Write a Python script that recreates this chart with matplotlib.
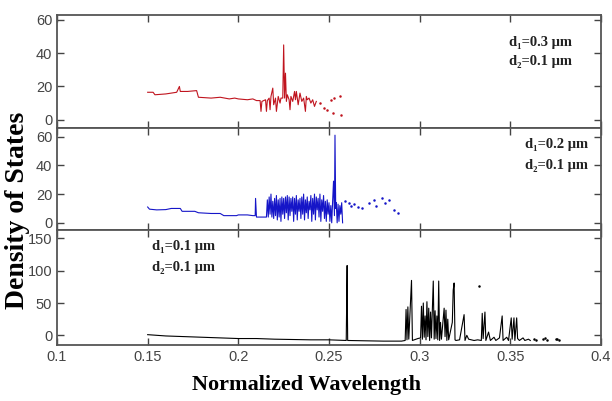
import numpy as np
import matplotlib
matplotlib.use("Agg")
import matplotlib.pyplot as plt

# Panel 1: d1=0.3 um (red)
x1 = [0.150, 0.153, 0.154, 0.160, 0.166, 0.1675, 0.168, 0.172, 0.177, 0.178, 0.185, 0.190,
      0.195, 0.198, 0.200, 0.205, 0.208, 0.210, 0.212, 0.2125, 0.213, 0.215, 0.2155, 0.216,
      0.217, 0.2175, 0.218, 0.219, 0.2195, 0.2205, 0.221, 0.222, 0.223, 0.2235, 0.2245, 0.2250,
      0.2255, 0.226, 0.2265, 0.227, 0.228, 0.2285, 0.229, 0.230, 0.231, 0.2315, 0.232, 0.2325,
      0.233, 0.234, 0.235, 0.236, 0.237, 0.2375, 0.238, 0.239, 0.240, 0.241, 0.242, 0.243]
y1 = [16.5, 16.5, 15, 15.5, 16.5, 20, 17, 17, 17.5, 13.5, 13, 13.5,
      12.5, 13, 12.5, 12, 12.5, 11.5, 11.5, 5, 11, 12, 5, 11.5,
      13, 6, 14, 19, 9, 13, 5, 14, 10, 13, 13, 45,
      13, 28, 11, 15, 12, 6, 14, 11, 17, 12, 17, 13,
      9, 16, 11, 13, 5, 14, 12, 13, 10, 12, 8, 11]
x1_dots = [0.245, 0.247, 0.249, 0.251, 0.252, 0.253, 0.256, 0.2565]
y1_dots = [10, 7, 6, 12, 4, 13, 14, 3]

# Panel 2: d1=0.2 um (blue)
x2 = [0.150, 0.151, 0.155, 0.160, 0.163, 0.168, 0.169, 0.176, 0.178, 0.185, 0.190, 0.192,
      0.199, 0.200, 0.205, 0.208, 0.2093, 0.2095, 0.210, 0.2155,
      0.216, 0.2165, 0.217, 0.2175, 0.218, 0.2185, 0.219, 0.2195, 0.220, 0.2205, 0.221, 0.2215,
      0.222, 0.2225, 0.223, 0.2235, 0.224, 0.2245, 0.225, 0.2255, 0.226, 0.2265, 0.227, 0.2275,
      0.228, 0.2285, 0.229, 0.2295, 0.230, 0.2305, 0.231, 0.2315, 0.232, 0.2325, 0.233, 0.2335,
      0.234, 0.2345, 0.235, 0.2355, 0.236, 0.2365, 0.237, 0.2375, 0.238, 0.2385, 0.239, 0.2395,
      0.240, 0.2405, 0.241, 0.2415, 0.242, 0.2425, 0.243, 0.2435, 0.244, 0.2445, 0.245, 0.2455,
      0.246, 0.2465, 0.247, 0.2475, 0.248, 0.2485, 0.249, 0.2495, 0.250, 0.2505, 0.251, 0.2515,
      0.252, 0.2525, 0.253, 0.2533, 0.2537, 0.254, 0.2545, 0.255, 0.2555, 0.256, 0.2565, 0.257,
      0.2575]
y2 = [11, 9.5, 9, 9.2, 10, 10, 8, 8, 7, 6.5, 6.5, 5,
      5, 5.5, 5.5, 5, 5, 17, 4, 4,
      16, 4, 18, 6, 20, 4, 15, 3, 17, 5, 19, 2,
      16, 4, 17, 1, 18, 6, 17, 3, 18, 7, 19, 2,
      18, 5, 17, 8, 18, 1, 17, 6, 19, 2, 16, 8,
      17, 3, 18, 6, 20, 2, 16, 7, 18, 3, 15, 9,
      19, 1, 17, 6, 20, 2, 18, 9, 17, 4, 20, 1,
      16, 8, 19, 3, 15, 1, 16, 6, 14, 1, 12, 0,
      15, 29, 5, 61, 10, 14, 0, 13, 1, 12, 6, 14,
      0]
x2_dots = [0.259, 0.261, 0.262, 0.264, 0.266, 0.268, 0.272, 0.275, 0.276, 0.279, 0.281,
           0.283, 0.286, 0.288]
y2_dots = [15, 14, 12, 13, 11, 10, 14, 16, 12, 17, 14, 16, 9, 7]

# Panel 3: d1=0.1 um (black)
x3 = [0.150, 0.155, 0.160, 0.170, 0.180, 0.190, 0.200, 0.210, 0.220, 0.230, 0.240, 0.250,
      0.2595, 0.2600, 0.2601, 0.2603, 0.270, 0.280, 0.290, 0.292, 0.2925, 0.293, 0.2935, 0.294,
      0.2955, 0.296, 0.297, 0.299, 0.3005, 0.301, 0.3015, 0.302, 0.3025, 0.303, 0.3035, 0.304,
      0.3045, 0.305, 0.3055, 0.306, 0.3065, 0.3075, 0.308, 0.3085, 0.309, 0.3095, 0.310, 0.3105,
      0.311, 0.3115, 0.312, 0.3135, 0.314, 0.3145, 0.315, 0.3155, 0.316, 0.318, 0.3185, 0.319,
      0.3195, 0.320, 0.322, 0.3245, 0.325, 0.326, 0.327, 0.330, 0.332, 0.334, 0.3345, 0.335,
      0.336, 0.3365, 0.338, 0.339, 0.341, 0.342, 0.344, 0.3455, 0.346, 0.348, 0.349, 0.3505,
      0.351, 0.352, 0.3525, 0.3535, 0.354, 0.355, 0.357, 0.358, 0.360, 0.361]
y3 = [1, 0, -1, -2, -3, -4, -5, -5, -6, -6.5, -7, -7,
      -8, 108, 50, -8, -8.5, -9, -9, -8, 40, -7, 44, -6,
      85, -8, -7, -5, -4, 45, -6, 50, -3, 30, -7, 52,
      -2, 42, -8, 36, -4, 84, -6, 38, -5, 30, -7, 84,
      -8, 20, -6, 42, -2, 39, -8, 25, -7, 20, 70, 81,
      -7, -8, -7, 32, -8, 0, -6, -8, -7, -8, 34, -5,
      36, -8, 5, -8, -3, -8, -4, 30, -8, -3, -8, 27,
      -6, 27, -8, 27, -5, -8, -4, -8, -6, -8]
x3_dots = [0.3328, 0.363, 0.364, 0.368, 0.369, 0.370, 0.375, 0.376, 0.377]
y3_dots = [76, -5, -7, -6, -4, -7, -6, -5, -7]

labels = [("d\u2081=0.3 \u03bcm", "d\u2082=0.1 \u03bcm"),
          ("d\u2081=0.2 \u03bcm", "d\u2082=0.1 \u03bcm"),
          ("d\u2081=0.1 \u03bcm", "d\u2082=0.1 \u03bcm")]

serif = ["Liberation Serif", "DejaVu Serif"]
tickfont = ["Liberation Sans Narrow", "Liberation Sans", "DejaVu Sans"]

fig = plt.figure(figsize=(6.12, 4.01), dpi=100)
left, width = 57 / 612, 544 / 612
boxes = [(1 - 128 / 401, 113 / 401), (1 - 230 / 401, 102 / 401), (1 - 345 / 401, 115 / 401)]
ylims = [(-5, 63), (-5, 66), (-15, 163)]
yticks = [[0, 20, 40, 60], [0, 20, 40, 60], [0, 50, 100, 150]]
colors = ["#c0141e", "#1515c8", "black"]
text_pos = [(0.83, 0.73, 0.56), (0.86, 0.80, 0.60), (0.175, 0.83, 0.64)]
data = [(x1, y1, x1_dots, y1_dots), (x2, y2, x2_dots, y2_dots), (x3, y3, x3_dots, y3_dots)]

for i in range(3):
    b, h = boxes[i]
    ax = fig.add_axes([left, b, width, h])
    xs, ys, xd, yd = data[i]
    ax.plot(xs, ys, color=colors[i], lw=0.8)
    ax.plot(xd, yd, ".", color=colors[i], ms=1.6)
    ax.set_xlim(0.1, 0.4)
    ax.set_ylim(*ylims[i])
    ax.set_yticks(yticks[i])
    ax.set_xticks([0.1, 0.15, 0.2, 0.25, 0.3, 0.35, 0.4])
    ax.tick_params(direction="in", top=True, right=True, length=5, width=1,
                   color="#444444", labelcolor="#444444", labelsize=10.5)
    for lab in ax.get_yticklabels() + ax.get_xticklabels():
        lab.set_family(tickfont)
    if i < 2:
        ax.set_xticklabels([])
    else:
        ax.set_xticklabels(["0.1", "0.15", "0.2", "0.25", "0.3", "0.35", "0.4"])
    for s in ax.spines.values():
        s.set_color("#555555")
        s.set_linewidth(1.3)
    tx, ty1, ty2 = text_pos[i]
    ax.text(tx, ty1, labels[i][0], transform=ax.transAxes, family=serif,
            fontweight="bold", fontsize=10.5, color="#222222")
    ax.text(tx, ty2, labels[i][1], transform=ax.transAxes, family=serif,
            fontweight="bold", fontsize=10.5, color="#222222")

fig.text(0.028, 0.475, "Density of States", rotation=90, va="center", ha="center",
         family=serif, fontweight="bold", fontsize=20)
fig.text(0.5, 0.04, "Normalized Wavelength", va="center", ha="center",
         family=serif, fontweight="bold", fontsize=16)

plt.savefig("out.png", dpi=100)
